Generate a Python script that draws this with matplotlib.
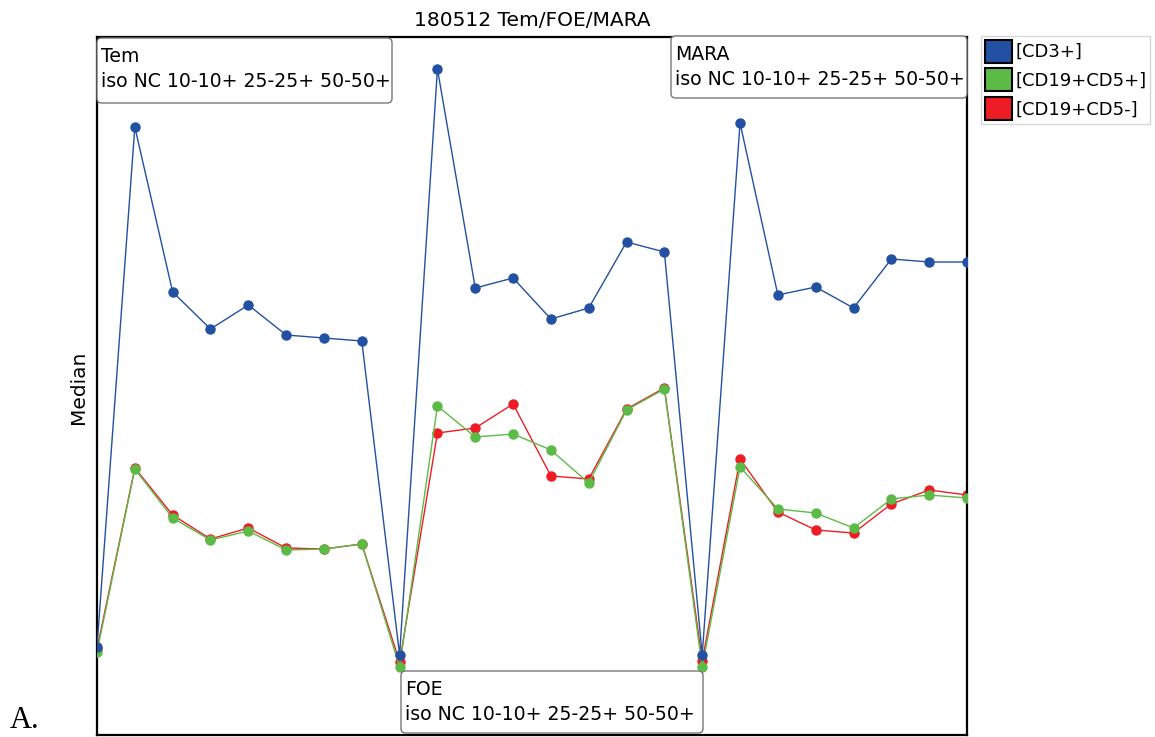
import matplotlib
matplotlib.use("Agg")
import matplotlib.pyplot as plt
from matplotlib.patches import Patch, FancyBboxPatch

W, H = 1155, 737
x_idx = list(range(24))
cd3 = [88, 608, 443, 406, 430, 400, 397, 394,
       80, 666, 447, 457, 416, 427, 493, 483,
       80, 612, 440, 448, 427, 476, 473, 473]
cd19_cd5pos = [83, 266, 217, 195, 204, 185, 186, 191,
               68, 329, 298, 301, 285, 252, 325, 346,
               68, 268, 226, 222, 207, 236, 240, 237]
cd19_cd5neg = [86, 267, 220, 196, 207, 187, 186, 191,
               73, 302, 307, 331, 259, 256, 326, 347,
               74, 276, 223, 205, 202, 231, 245, 240]
series_names = ["[CD3+]", "[CD19+CD5+]", "[CD19+CD5-]"]
colors = ["#2250A2", "#5CBB47", "#EE1D25"]
groups = ["Tem", "FOE", "MARA"]
group_sub = "iso NC 10-10+ 25-25+ 50-50+"

fig = plt.figure(figsize=(W/100, H/100), dpi=100)
ax = fig.add_axes([97/W, 2/H, 870/W, 698/H])

ms = 6.5
ax.plot(x_idx, cd19_cd5neg, color=colors[2], lw=1.0, marker='o', ms=ms, zorder=2)
ax.plot(x_idx, cd19_cd5pos, color=colors[1], lw=1.0, marker='o', ms=ms, zorder=3)
ax.plot(x_idx, cd3, color=colors[0], lw=1.0, marker='o', ms=ms, zorder=4)

ax.set_xlim(0, 23)
ax.set_ylim(0, 698)
ax.set_xticks([])
ax.set_yticks([])
for s in ax.spines.values():
    s.set_linewidth(1.6)
fig.text(78/W, 1-387/H, "Median", fontsize=14.5, rotation=90, ha='center', va='center')
fig.text(532/W, 1-20/H, "180512 Tem/FOE/MARA", fontsize=14.5, ha='center', va='center')

fs = 13.6
def group_box(x0, y0, x1, y1, title):
    box = FancyBboxPatch((x0/W, 1-y1/H), (x1-x0)/W, (y1-y0)/H,
                         boxstyle="round,pad=0,rounding_size=0.004",
                         transform=fig.transFigure, fc='white', ec='#777777', lw=1.0,
                         zorder=10, mutation_aspect=W/H)
    fig.add_artist(box)
    fig.text((x0+4)/W, 1-(y0+24)/H, title, fontsize=fs, va='baseline', ha='left', zorder=11)
    fig.text((x0+4)/W, 1-(y0+49)/H, group_sub, fontsize=fs, va='baseline', ha='left', zorder=11)

group_box(97, 38, 392, 103, groups[0])
group_box(671, 36, 967, 98, groups[2])
group_box(401, 671, 703, 733, groups[1])

handles = [Patch(facecolor=c, edgecolor='black', lw=1.5) for c in colors]
leg = fig.legend(handles, series_names, loc='upper left', bbox_to_anchor=(981/W, 1-36/H),
                 fontsize=13, frameon=True, fancybox=False, edgecolor='#cccccc',
                 handlelength=1.5, handleheight=1.6, handletextpad=0.2,
                 labelspacing=0.3, borderpad=0.2, borderaxespad=0)
leg.get_frame().set_linewidth(1.0)

fig.text(10/W, 1-735/H, "A.", fontsize=22, family="Liberation Serif", va='bottom', ha='left')

fig.savefig("out.png", dpi=100)
